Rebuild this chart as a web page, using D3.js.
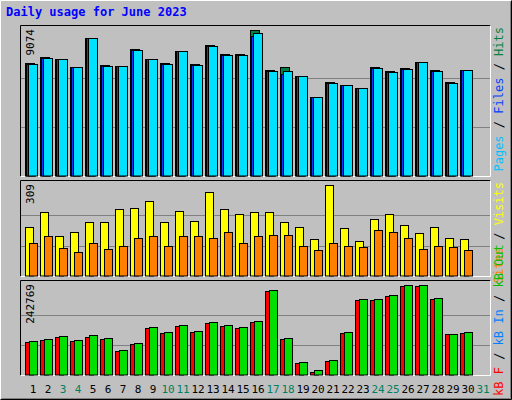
<!DOCTYPE html><html><head><script src="https://cdn.jsdelivr.net/npm/d3@7"></script>
<style>body{margin:0;background:#fff}</style></head><body><svg id="c" width="512" height="400"></svg><script>
const days=d3.range(1,32);
const hits=[6970,7341,7217,6722,8517,6846,6784,7836,7217,6970,7712,6929,8084,7527,7527,9074,6537,6722,6166,4867,5795,5609,5423,6722,6475,6661,7032,6537,5795,6537];
const files=[6950,7320,7217,6722,8517,6830,6784,7800,7217,6950,7712,6900,8050,7500,7500,8700,6510,6290,6166,4867,5770,5609,5423,6700,6450,6640,7032,6510,5770,6537];
const pages=[6908,7279,7217,6722,8517,6784,6784,7774,7217,6908,7712,6846,8022,7465,7465,8827,6475,6475,6166,4867,5733,5609,5423,6661,6413,6599,7032,6475,5733,6537];
const visits=[164,215,134,147,181,184,225,231,252,184,221,187,282,225,208,215,215,184,167,124,309,161,117,194,208,171,144,167,127,124];
const sites=[110,134,93,80,113,90,103,130,134,103,134,134,130,147,110,134,140,140,103,87,113,100,97,154,147,127,90,103,97,87];
const kbIn=[90143,95498,103530,92820,106208,98175,65995,84788,127628,114240,132983,116918,141015,132983,127628,143693,226695,98175,33915,12495,39270,114240,202598,202598,215093,241868,242769,205275,108885,114240];
const kbF=[87400,92800,100800,90100,102600,95500,63300,82100,124900,111500,130300,114200,138300,130300,124900,141000,224000,95500,31200,8900,36600,111500,199900,199900,212400,239200,239200,202600,108885,111500];
const weekend=[3,4,10,11,17,18,24,25,31];
const svg=d3.select("#c");
svg.append("rect").attr("width",512).attr("height",400).attr("fill","#c0c0c0");
svg.append("path").attr("d","M0.5,399.5V0.5H511.5").attr("stroke","#fff").attr("fill","none");
svg.append("path").attr("d","M0.5,399.5H511.5V0.5").attr("stroke","#000").attr("fill","none");
svg.append("path").attr("d","M1.5,398.5H510.5V1.5").attr("stroke","#808080").attr("fill","none");
const mono="'DejaVu Sans Mono',monospace";
svg.append("text").attr("x",6).attr("y",16).text("Daily usage for June 2023").attr("fill","#0000ff").attr("font-family",mono).attr("font-weight","bold").attr("font-size",12);
const x=d3.scaleLinear().domain([1,2]).range([25,40]);
function panel(top,bottom,max,series,label){
  svg.append("rect").attr("x",20.5).attr("y",top+0.5).attr("width",470).attr("height",bottom-top).attr("fill","#c0c0c0");
  svg.append("path").attr("d",`M20.5,${bottom+0.5}V${top+0.5}H490.5`).attr("stroke","#000").attr("fill","none");
  svg.append("path").attr("d",`M20.5,${bottom+0.5}H490.5V${top+0.5}`).attr("stroke","#fff").attr("fill","none");
  const y=d3.scaleLinear().domain([0,max]).range([bottom,top+4.5]);
  [1/3,2/3].forEach(f=>svg.append("line").attr("x1",21).attr("x2",490).attr("y1",Math.round(y(max*f*(bottom-top-4.5)/(bottom-top-4.5)))+0.5).attr("y2",Math.round(y(max*f))+0.5).attr("stroke","#808080"));
  series.forEach(s=>{
    svg.append("g").selectAll("rect").data(s.v).join("rect")
      .attr("x",(d,i)=>x(i+1)+s.dx+0.5).attr("y",d=>Math.round(y(d))+0.5).attr("width",s.w).attr("height",d=>bottom-Math.round(y(d))-0.5)
      .attr("fill",s.c).attr("stroke","#000");
  });
  svg.append("text").attr("transform",`translate(34,${top+4}) rotate(-90)`).attr("text-anchor","end").text(max).attr("font-family",mono).attr("font-size",11);
  const t=svg.append("text").attr("transform",`translate(503,${top+2}) rotate(-90)`).attr("text-anchor","end").attr("font-family",mono).attr("font-size",12);
  label.forEach(l=>t.append("tspan").text(l[0]).attr("fill",l[1]));
}
panel(25,176,9074,[{v:hits,c:"#008040",dx:0,w:9},{v:files,c:"#0040ff",dx:1,w:9},{v:pages,c:"#00e0ff",dx:3,w:9}],[["Pages","#00c0ff"],[" / ","#000"],["Files","#0040ff"],[" / ","#000"],["Hits","#008040"]]);
panel(180,276,309,[{v:visits,c:"#ffff00",dx:0,w:8},{v:sites,c:"#ff8000",dx:4,w:8}],[["Sites","#ff8000"],[" / ","#000"],["Visits","#ffff00"]]);
panel(280,375,242769,[{v:kbF,c:"#ff0000",dx:0,w:8},{v:kbIn,c:"#00e000",dx:4,w:8}],[]);
const t3=svg.append("text").attr("transform",`translate(503,396) rotate(-90)`).attr("font-family",mono).attr("font-size",12);
[["kB F","#ff0000"],[" / ","#000"],["kB In","#0080ff"],[" / ","#000"],["kB Out","#00c000"]].forEach(l=>t3.append("tspan").text(l[0]).attr("fill",l[1]));
svg.append("g").selectAll("text").data(days).join("text").attr("x",d=>x(d)+8).attr("y",393).attr("text-anchor","middle")
  .text(d=>d).attr("fill",d=>weekend.includes(d)?"#008060":"#000").attr("font-family",mono).attr("font-size",11);
</script></body></html>
